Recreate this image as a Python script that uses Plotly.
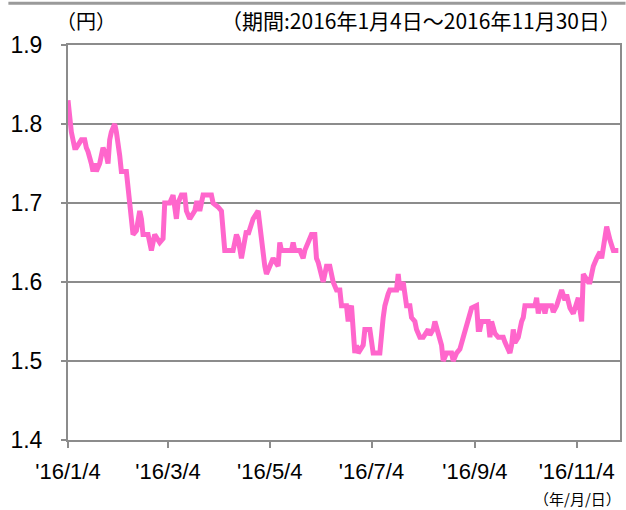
import plotly.graph_objects as go

dates = [
    "2016-01-04", "2016-01-05", "2016-01-06", "2016-01-08", "2016-01-09", "2016-01-12",
    "2016-01-14", "2016-01-15", "2016-01-16", "2016-01-18", "2016-01-19", "2016-01-20",
    "2016-01-21", "2016-01-23", "2016-01-25", "2016-01-27", "2016-01-28", "2016-01-29",
    "2016-01-30", "2016-02-01", "2016-02-02", "2016-02-04", "2016-02-05", "2016-02-08",
    "2016-02-09", "2016-02-10", "2016-02-12", "2016-02-14", "2016-02-16", "2016-02-17",
    "2016-02-18", "2016-02-21", "2016-02-23", "2016-02-25", "2016-02-28", "2016-03-01",
    "2016-03-02", "2016-03-04", "2016-03-05", "2016-03-07", "2016-03-09", "2016-03-10",
    "2016-03-12", "2016-03-14", "2016-03-15", "2016-03-17", "2016-03-20", "2016-03-21",
    "2016-03-22", "2016-03-23", "2016-03-25", "2016-03-30", "2016-03-31", "2016-04-03",
    "2016-04-05", "2016-04-07", "2016-04-12", "2016-04-14", "2016-04-15", "2016-04-17",
    "2016-04-20", "2016-04-21", "2016-04-23", "2016-04-24", "2016-04-27", "2016-04-29",
    "2016-05-01", "2016-05-02", "2016-05-04", "2016-05-06", "2016-05-09", "2016-05-10",
    "2016-05-11", "2016-05-17", "2016-05-18", "2016-05-19", "2016-05-22", "2016-05-24",
    "2016-05-25", "2016-05-27", "2016-05-29", "2016-05-31", "2016-06-01", "2016-06-02",
    "2016-06-05", "2016-06-07", "2016-06-09", "2016-06-11", "2016-06-13", "2016-06-15",
    "2016-06-16", "2016-06-19", "2016-06-20", "2016-06-21", "2016-06-22", "2016-06-24",
    "2016-06-25", "2016-06-26", "2016-06-29", "2016-06-30", "2016-07-03", "2016-07-05",
    "2016-07-09", "2016-07-11", "2016-07-12", "2016-07-14", "2016-07-15", "2016-07-18",
    "2016-07-19", "2016-07-20", "2016-07-21", "2016-07-22", "2016-07-23", "2016-07-25",
    "2016-07-27", "2016-07-28", "2016-07-30", "2016-07-31", "2016-08-02", "2016-08-04",
    "2016-08-07", "2016-08-08", "2016-08-10", "2016-08-11", "2016-08-13", "2016-08-15",
    "2016-08-16", "2016-08-18", "2016-08-21", "2016-08-22", "2016-08-24", "2016-08-26",
    "2016-08-28", "2016-08-31", "2016-09-02", "2016-09-05", "2016-09-06", "2016-09-07",
    "2016-09-08", "2016-09-12", "2016-09-13", "2016-09-14", "2016-09-15", "2016-09-16",
    "2016-09-18", "2016-09-21", "2016-09-22", "2016-09-23", "2016-09-25", "2016-09-26",
    "2016-09-27", "2016-09-28", "2016-09-30", "2016-10-02", "2016-10-03", "2016-10-04",
    "2016-10-10", "2016-10-11", "2016-10-12", "2016-10-13", "2016-10-15", "2016-10-16",
    "2016-10-17", "2016-10-20", "2016-10-21", "2016-10-23", "2016-10-26", "2016-10-28",
    "2016-10-29", "2016-10-31", "2016-11-02", "2016-11-05", "2016-11-07", "2016-11-08",
    "2016-11-11", "2016-11-12", "2016-11-14", "2016-11-16", "2016-11-18", "2016-11-19",
    "2016-11-22", "2016-11-24", "2016-11-26", "2016-11-29",
]

prices = [
    1.83, 1.80, 1.79, 1.77, 1.77, 1.78,
    1.78, 1.77, 1.765, 1.75, 1.74, 1.75,
    1.74, 1.75, 1.77, 1.76, 1.75, 1.78,
    1.79, 1.80, 1.79, 1.76, 1.74, 1.74,
    1.71, 1.70, 1.66, 1.665, 1.69, 1.68,
    1.66, 1.66, 1.64, 1.66, 1.65, 1.655,
    1.70, 1.70, 1.70, 1.71, 1.68, 1.70,
    1.71, 1.71, 1.69, 1.68, 1.69, 1.70,
    1.70, 1.69, 1.71, 1.71, 1.70, 1.695,
    1.69, 1.64, 1.64, 1.66, 1.655, 1.63,
    1.665, 1.66, 1.675, 1.68, 1.69, 1.647,
    1.62, 1.61, 1.62, 1.63, 1.62, 1.65,
    1.64, 1.64, 1.65, 1.64, 1.64, 1.63,
    1.64, 1.65, 1.66, 1.66, 1.63, 1.625,
    1.60, 1.62, 1.62, 1.60, 1.59, 1.59,
    1.57, 1.57, 1.55, 1.565, 1.57, 1.51,
    1.52, 1.51, 1.52, 1.54, 1.54, 1.51,
    1.51, 1.555, 1.57, 1.585, 1.59, 1.59,
    1.59, 1.61, 1.59, 1.595, 1.60, 1.57,
    1.57, 1.555, 1.55, 1.54, 1.53, 1.53,
    1.54, 1.533, 1.54, 1.55, 1.535, 1.52,
    1.50, 1.51, 1.51, 1.50, 1.51, 1.515,
    1.53, 1.555, 1.567, 1.57, 1.54, 1.54,
    1.55, 1.55, 1.53, 1.55, 1.543, 1.535,
    1.53, 1.53, 1.524, 1.52, 1.51, 1.52,
    1.54, 1.523, 1.53, 1.55, 1.555, 1.57,
    1.57, 1.58, 1.56, 1.57, 1.57, 1.56,
    1.57, 1.57, 1.562, 1.57, 1.59, 1.577,
    1.584, 1.567, 1.56, 1.58, 1.55, 1.61,
    1.60, 1.60, 1.62, 1.63, 1.638, 1.63,
    1.67, 1.653, 1.64, 1.64,
]

tick_dates = ["2016-01-04", "2016-03-04", "2016-05-04", "2016-07-04", "2016-09-04", "2016-11-04"]
tick_labels = ["'16/1/4", "'16/3/4", "'16/5/4", "'16/7/4", "'16/9/4", "'16/11/4"]
y_ticks = [1.4, 1.5, 1.6, 1.7, 1.8, 1.9]

LAT = "Liberation Sans"
JP = "Noto Sans CJK JP"
GRID = "#8c8c8c"

fig = go.Figure()
fig.add_trace(go.Scatter(
    x=dates, y=prices, mode="lines",
    line=dict(color="#ff66cc", width=5),
    hoverinfo="skip", showlegend=False,
))

fig.update_layout(
    width=626, height=510,
    margin=dict(l=68, r=4, t=45, b=70),
    paper_bgcolor="white", plot_bgcolor="white",
    font=dict(family=LAT, size=17, color="#000000"),
    xaxis=dict(
        type="date", range=["2016-01-04", "2016-11-30"],
        tickmode="array", tickvals=tick_dates, ticktext=tick_labels,
        ticks="outside", ticklen=6, tickwidth=1.5, tickcolor=GRID,
        showgrid=False, zeroline=False,
        showline=True, linecolor=GRID, linewidth=2, mirror=True,
        tickfont=dict(family=LAT, size=22), ticklabelstandoff=5,
    ),
    yaxis=dict(
        range=[1.4, 1.9], tickmode="array", tickvals=y_ticks,
        tickformat=".1f",
        ticks="outside", ticklen=5, tickwidth=1.5, tickcolor=GRID,
        showgrid=True, gridcolor=GRID, gridwidth=1.5, zeroline=False,
        showline=True, linecolor=GRID, linewidth=2, mirror=True,
        tickfont=dict(family=LAT, size=23), ticklabelstandoff=14,
    ),
    shapes=[dict(type="line", xref="paper", yref="paper",
                 x0=-0.108, x1=1.01, y0=1.106, y1=1.106,
                 line=dict(color="#9a9a9a", width=3))],
    annotations=[
        dict(text="（円）", xref="paper", yref="paper", x=-0.025, y=1.063,
             xanchor="left", yanchor="middle", showarrow=False,
             font=dict(family=JP, size=20)),
        dict(text="（期間:2016年1月4日～2016年11月30日）", xref="paper", yref="paper",
             x=1.006, y=1.063, xanchor="right", yanchor="middle", showarrow=False,
             font=dict(family=JP, size=21)),
        dict(text="（年/月/日）", xref="paper", yref="paper", x=1.006, y=-0.148,
             xanchor="right", yanchor="middle", showarrow=False,
             font=dict(family=JP, size=15)),
    ],
)

fig.write_html("out.html", config={"displayModeBar": False},
               post_script="document.body.style.margin='0';document.body.style.overflow='hidden';")
